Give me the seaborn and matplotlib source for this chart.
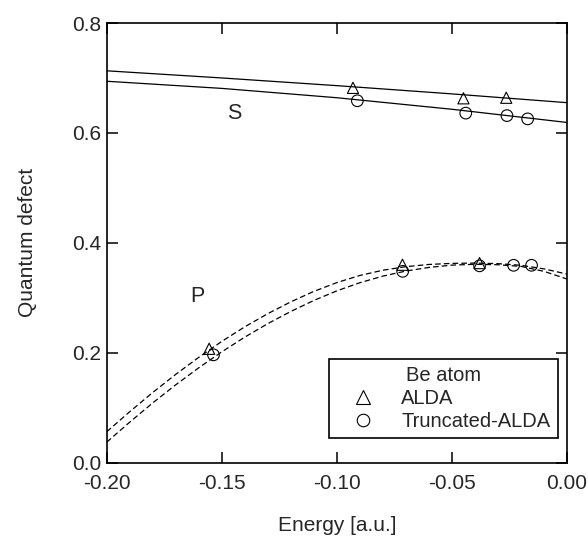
import numpy as np
import pandas as pd
import matplotlib
matplotlib.use("Agg")
import matplotlib.pyplot as plt
from matplotlib.lines import Line2D
import seaborn as sns

# ---- data ----
s_alda_E = [-0.093, -0.045, -0.0264]
s_alda_mu = [0.682, 0.663, 0.664]
s_trunc_E = [-0.0911, -0.044, -0.0261, -0.0171]
s_trunc_mu = [0.6585, 0.636, 0.6315, 0.6255]

p_alda_E = [-0.1555, -0.0715, -0.038]
p_alda_mu = [0.207, 0.360, 0.363]
p_trunc_E = [-0.1536, -0.0714, -0.038, -0.0232, -0.0154]
p_trunc_mu = [0.196, 0.348, 0.358, 0.359, 0.359]

# fitted curves
s_fit_E = [-0.20, -0.15, -0.10, -0.05, 0.00]
s_fit_alda = [0.713, 0.700, 0.686, 0.671, 0.655]
s_fit_trunc = [0.694, 0.681, 0.664, 0.643, 0.619]

p_fit_E = [-0.20, -0.19, -0.18, -0.17, -0.16, -0.15, -0.14, -0.13, -0.12, -0.11, -0.10,
           -0.09, -0.08, -0.07, -0.06, -0.05, -0.04, -0.03, -0.02, -0.01, 0.00]
p_fit_alda = [0.0560, 0.0925, 0.1275, 0.1605, 0.1915, 0.2205, 0.2470, 0.2710, 0.2925,
              0.3115, 0.3275, 0.3405, 0.3500, 0.3565, 0.3605, 0.3625, 0.3630, 0.3620,
              0.3590, 0.3525, 0.3430]
p_fit_trunc = [0.0370, 0.0735, 0.1085, 0.1415, 0.1725, 0.2015, 0.2283, 0.2528, 0.2750,
               0.2950, 0.3125, 0.3273, 0.3393, 0.3485, 0.3551, 0.3593, 0.3608, 0.3600,
               0.3570, 0.3480, 0.3340]

x_ticks = [-0.20, -0.15, -0.10, -0.05, 0.00]
x_tick_labels = ["-0.20", "-0.15", "-0.10", "-0.05", "0.00"]
y_ticks = [0.0, 0.2, 0.4, 0.6, 0.8]
y_tick_labels = ["0.0", "0.2", "0.4", "0.6", "0.8"]

sns.set_theme(style="ticks")
plt.rcParams["font.family"] = ["Liberation Sans", "DejaVu Sans"]

fig = plt.figure(figsize=(5.88, 5.39), dpi=100)
ax = fig.add_axes([0.1815, 0.1419, 0.7828, 0.8154])

lw = 0.9
dash = (0, (4.5, 2.5))
sns.lineplot(x=s_fit_E, y=s_fit_alda, ax=ax, color="black", lw=lw, sort=False, estimator=None)
sns.lineplot(x=s_fit_E, y=s_fit_trunc, ax=ax, color="black", lw=lw, sort=False, estimator=None)
sns.lineplot(x=p_fit_E, y=p_fit_alda, ax=ax, color="black", lw=lw, sort=False, estimator=None,
             linestyle=dash)
sns.lineplot(x=p_fit_E, y=p_fit_trunc, ax=ax, color="black", lw=lw, sort=False, estimator=None,
             linestyle=dash)

tri_s = 65
circ_s = 70
for E, mu in [(s_alda_E, s_alda_mu), (p_alda_E, p_alda_mu)]:
    sns.scatterplot(x=E, y=mu, ax=ax, marker="^", s=tri_s, facecolors="none",
                    edgecolors="black", linewidths=0.8, zorder=3)
for E, mu in [(s_trunc_E, s_trunc_mu), (p_trunc_E, p_trunc_mu)]:
    sns.scatterplot(x=E, y=mu, ax=ax, marker="o", s=circ_s, facecolors="none",
                    edgecolors="black", linewidths=0.8, zorder=3)

ax.text(-0.1446, 0.6345, "S", fontsize=15.5, ha="center", va="center")
ax.text(-0.1604, 0.302, "P", fontsize=15.5, ha="center", va="center")

ax.set_xlim(-0.2, 0.0)
ax.set_ylim(0.0, 0.8)
ax.set_xticks(x_ticks)
ax.set_xticklabels(x_tick_labels)
ax.set_yticks(y_ticks)
ax.set_yticklabels(y_tick_labels)
ax.tick_params(axis="both", direction="in", length=8, width=1.1, labelsize=15,
               top=True, right=True, color="black")
ax.tick_params(axis="x", pad=8)
ax.tick_params(axis="y", pad=4)
for sp in ax.spines.values():
    sp.set_visible(True)
    sp.set_linewidth(1.2)
    sp.set_color("black")

ax.set_xlabel("Energy [a.u.]", fontsize=15, labelpad=17)
ax.set_ylabel("Quantum defect", fontsize=15, labelpad=25)

handles = [
    Line2D([], [], marker="^", ls="none", mfc="none", mec="black", ms=9.5, mew=0.8),
    Line2D([], [], marker="o", ls="none", mfc="none", mec="black", ms=9, mew=0.8),
]
leg = ax.legend(handles, ["ALDA", "Truncated-ALDA"], title="Be atom",
                loc="lower right", bbox_to_anchor=(0.9796, 0.055), borderaxespad=0,
                fontsize=14.5, title_fontsize=14.5, frameon=True, fancybox=False,
                handlelength=2.7, handletextpad=0.55, borderpad=0.35, labelspacing=0.2)
leg.get_frame().set_edgecolor("black")
leg.get_frame().set_linewidth(1.2)
leg.get_frame().set_alpha(1)

fig.savefig("out.png", dpi=100)
